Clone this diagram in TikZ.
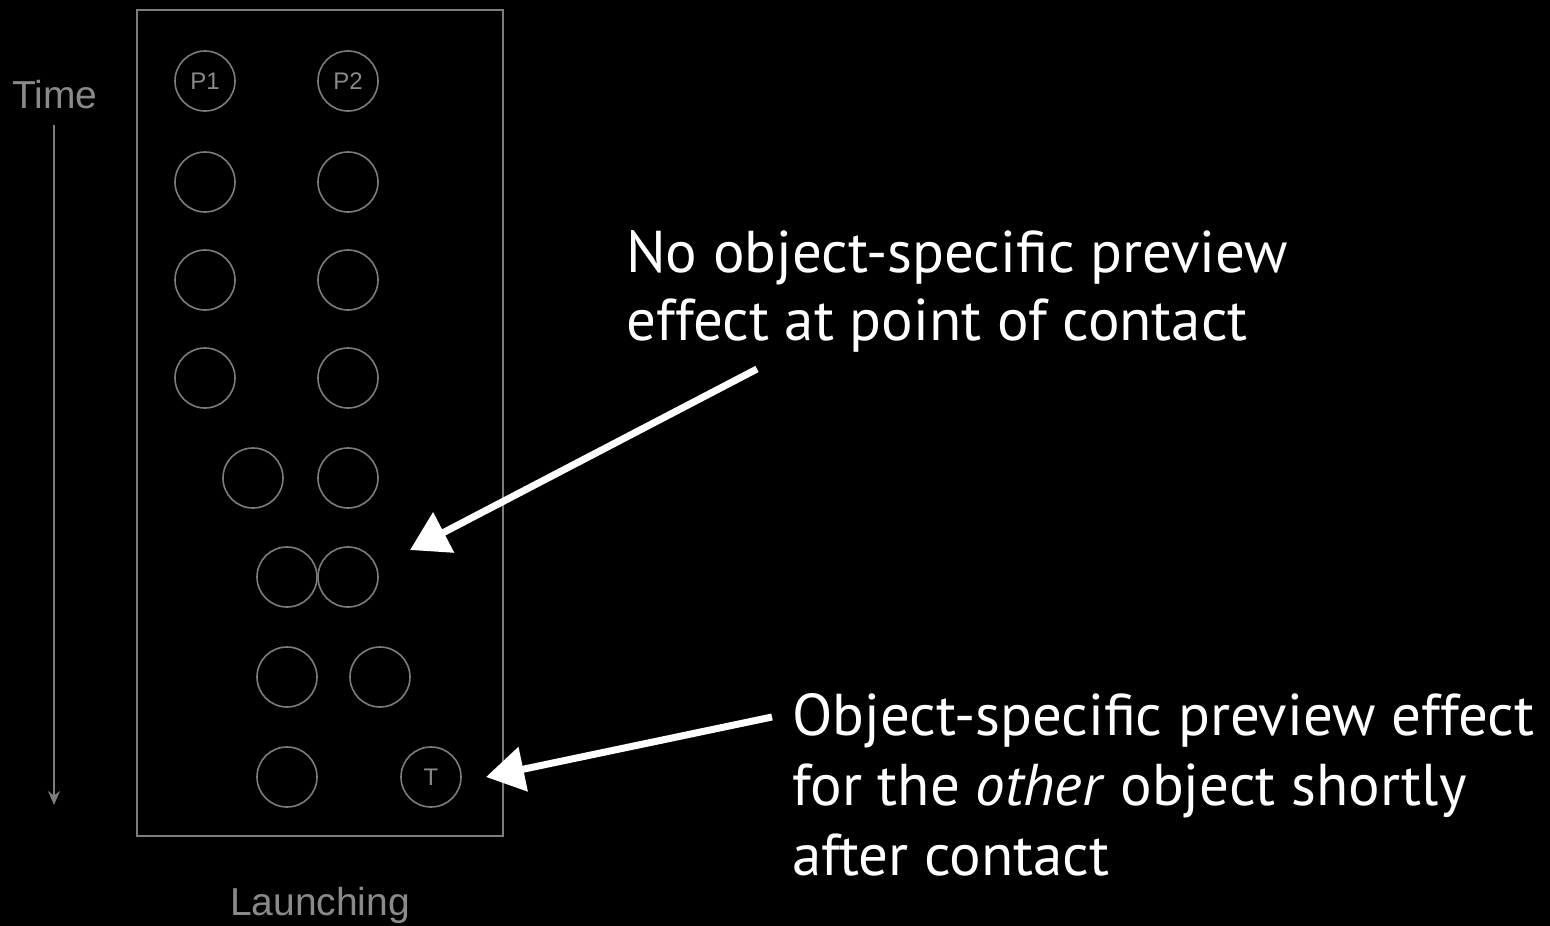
\documentclass[tikz,border=0pt]{standalone}
\usepackage{fontspec}
\setmainfont{PT Sans}
\newfontfamily\arialfont{Liberation Sans}
\usetikzlibrary{arrows.meta}
\definecolor{linegray}{HTML}{7C7C7C}
\definecolor{labelgray}{HTML}{8A8A8A}
\tikzset{
  ball/.style={circle, draw=linegray, line width=1.6pt, minimum size=60pt, inner sep=0pt, font=\arialfont\fontsize{24}{26}\selectfont, text=labelgray},
  bigtext/.style={anchor=base west, inner sep=0pt, text=white, font=\fontsize{59}{70}\selectfont},
  smalltext/.style={inner sep=0pt, text=labelgray, font=\arialfont\fontsize{39}{44}\selectfont},
  callout/.style={white, line width=7pt, -{Triangle[length=38pt, width=44pt]}},
}
\begin{document}
\begin{tikzpicture}[x=1pt, y=-1pt]
\useasboundingbox (0,0) rectangle (1550,926);
\fill[black] (0,0) rectangle (1550,926);
% frame
\draw[linegray, line width=1.6pt] (137,10) rectangle (503,836);
% time axis
\node[smalltext, anchor=base west] (time) at (12,108) {Time};
\coordinate (tA) at (54,125);
\coordinate (tB) at (54,805);
\draw[linegray, line width=1.6pt, -{Stealth[length=14pt, width=12pt]}] (tA) -- (tB);
\node[smalltext, anchor=base] (launch) at (320,915) {Launching};
% balls
\node[ball] (p1) at (205,81) {P1};
\node[ball] (p2) at (348,81) {P2};
\node[ball] (a2) at (205,182) {};
\node[ball] (b2) at (348,182) {};
\node[ball] (a3) at (205,280) {};
\node[ball] (b3) at (348,280) {};
\node[ball] (a4) at (205,378) {};
\node[ball] (b4) at (348,378) {};
\node[ball] (a5) at (253,478) {};
\node[ball] (b5) at (348,478) {};
\node[ball] (a6) at (287,577) {};
\node[ball] (b6) at (348,577) {};
\node[ball] (a7) at (287,677) {};
\node[ball] (b7) at (380,677) {};
\node[ball] (a8) at (287,777) {};
\node[ball] (t) at (431,777) {T};
% annotations
\node[bigtext] (n1a) at (626,272) {No object-specific preview};
\node[bigtext] (n1b) at (626,340) {effect at point of contact};
\node[bigtext] (n2a) at (792,735) {Object-specific preview effect};
\node[bigtext] (n2b) at (792,805) {for the \textit{other} object shortly};
\node[bigtext] (n2c) at (792,875) {after contact};
\coordinate (s1) at (757,369);
\coordinate (e1) at (410,550);
\coordinate (s2) at (772,717);
\coordinate (e2) at (486,777);
\draw[callout] (s1) -- (e1);
\draw[callout] (s2) -- (e2);
\end{tikzpicture}
\end{document}
